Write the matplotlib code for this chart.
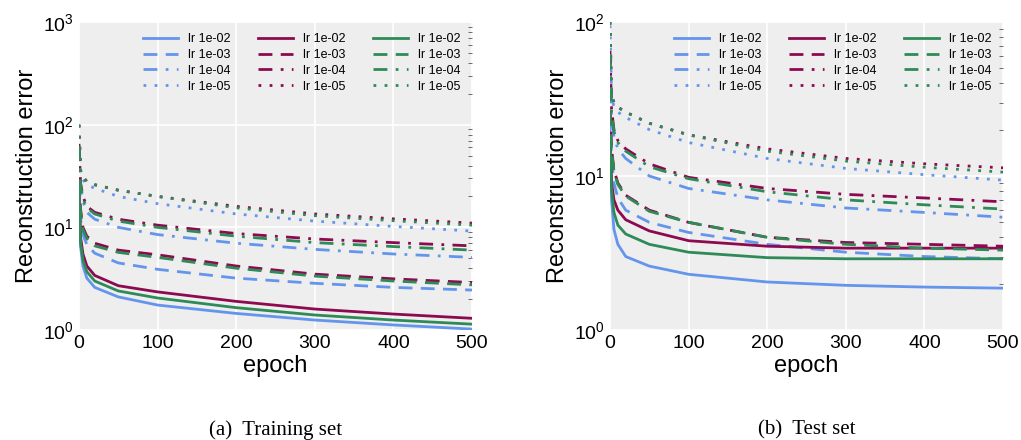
import matplotlib
matplotlib.use("Agg")
import matplotlib.pyplot as plt
import numpy as np

plt.rcParams['font.family'] = ['Liberation Sans', 'DejaVu Sans']

epochs = [0, 2, 5, 10, 20, 50, 100, 200, 300, 400, 500]
lrs = ["1e-02", "1e-03", "1e-04", "1e-05"]
colors = ["#6495ED", "#8B0A50", "#2E8B57"]
styles = ["-", (0, (5, 3)), (0, (5, 3, 1, 3)), (0, (1, 3))]

# training set: [model][lr] values at epochs
train = [
    [[20, 6.5, 4.2, 3.2, 2.6, 2.1, 1.75, 1.45, 1.25, 1.12, 1.02],
     [25, 12, 8.5, 6.8, 5.6, 4.5, 3.9, 3.2, 2.85, 2.6, 2.45],
     [60, 25, 18, 14, 12, 10, 8.5, 7.0, 6.1, 5.5, 5.1],
     [100, 35, 29, 26, 24, 20, 17, 13.5, 11.5, 10.2, 9.2]],
    [[22, 8, 5.5, 4.2, 3.4, 2.7, 2.35, 1.9, 1.6, 1.43, 1.3],
     [28, 15, 10, 8.2, 7.0, 6.0, 5.4, 4.2, 3.5, 3.15, 2.9],
     [65, 27, 20, 16, 14, 12, 10.5, 8.7, 7.7, 7.1, 6.6],
     [100, 36, 31, 28, 26, 23, 20, 16, 13.5, 12.1, 11]],
    [[21, 7, 4.8, 3.7, 3.0, 2.4, 2.05, 1.65, 1.4, 1.25, 1.14],
     [27, 14, 9.5, 7.8, 6.6, 5.7, 5.1, 4.0, 3.35, 3.0, 2.75],
     [62, 26, 19, 15.5, 13.5, 11.5, 10, 8.2, 7.1, 6.5, 6.0],
     [100, 36, 31, 28, 26, 23, 20, 15.5, 13, 11.6, 10.5]],
]
test = [
    [[20, 7, 4.5, 3.6, 3.0, 2.6, 2.3, 2.05, 1.95, 1.9, 1.87],
     [25, 13, 9.0, 7.2, 6.0, 5.0, 4.3, 3.6, 3.2, 3.0, 2.9],
     [60, 25, 18, 15, 13, 10, 8.3, 7.0, 6.2, 5.8, 5.4],
     [95, 34, 28, 26, 24, 20, 16.5, 13, 11.2, 10.2, 9.4]],
    [[18, 9, 7.0, 6.0, 5.2, 4.4, 3.8, 3.5, 3.4, 3.4, 3.4],
     [27, 15, 11.0, 9.0, 7.5, 6.0, 5.0, 4.0, 3.7, 3.6, 3.5],
     [65, 27, 20, 17, 15, 12, 9.8, 8.3, 7.6, 7.2, 6.8],
     [100, 34, 30, 28, 26, 22, 18.5, 15, 13, 12, 11.3]],
    [[17, 8, 5.8, 4.8, 4.2, 3.6, 3.2, 2.95, 2.9, 2.9, 2.9],
     [26, 14.5, 10.8, 8.8, 7.4, 5.9, 5.0, 4.0, 3.6, 3.4, 3.3],
     [62, 26, 19.5, 16.5, 14.5, 11.5, 9.6, 7.9, 7.0, 6.5, 6.1],
     [100, 34, 30, 28, 26, 22, 18.5, 14.5, 12.5, 11.4, 10.6]],
]

fig = plt.figure(figsize=(10.21, 4.40), dpi=100)
axs = [fig.add_axes([79/1021, 110/440, 393/1021, 308/440]),
       fig.add_axes([610/1021, 110/440, 393/1021, 308/440])]
data = [train, test]
ylims = [(1, 1000), (1, 100)]
caps = ["(a)  Training set", "(b)  Test set"]
for ax, d, yl, cap in zip(axs, data, ylims, caps):
    ax.set_facecolor("#eeeeee")
    for s in ax.spines.values():
        s.set_visible(False)
    ax.grid(True, color="white", linewidth=1.2)
    ax.set_axisbelow(True)
    for m in range(3):
        for j in range(4):
            ax.plot(epochs, d[m][j], color=colors[m], linestyle=styles[j],
                    linewidth=2, label="lr " + lrs[j])
    ax.set_yscale("log")
    ax.set_ylim(*yl)
    ax.set_xlim(0, 500)
    ax.set_xticks([0, 100, 200, 300, 400, 500])
    ax.tick_params(labelsize=14, length=0, which="major")
    ax.tick_params(which="minor", direction="in", length=3, right=True, left=False, color="#555555")
    ax.set_xlabel("epoch", fontsize=17, labelpad=2)
    ax.set_ylabel("Reconstruction error", fontsize=17)
    ax.legend(ncol=3, frameon=False, fontsize=9, loc="upper right", handlelength=2.8,
              columnspacing=2.2, labelspacing=0.3)
    ax.text(0.5, -0.325, cap, transform=ax.transAxes, ha="center", va="center",
            fontsize=15, family="Liberation Serif")
fig.savefig("out.png", dpi=100)
